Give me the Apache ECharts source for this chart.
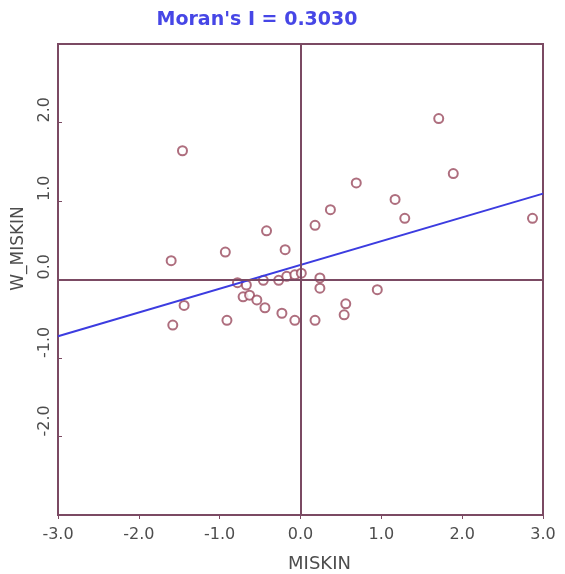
<!DOCTYPE html>
<html>
<head>
<meta charset="utf-8">
<script src="https://cdn.jsdelivr.net/npm/echarts@6/dist/echarts.min.js"></script>
<style>
  html, body { margin: 0; padding: 0; background: #fff; }
  #chart { width: 565px; height: 574px; }
</style>
</head>
<body>
<div id="chart"></div>
<script>
// standardized MISKIN values (x) and spatial lag W_MISKIN (y)
var miskin = [1.71, 1.89, 0.69, 0.37, 0.18, 1.17, 1.29, 2.87, 0.24, 0.24, 0.95, 0.56, 0.54, 0.18,
              -1.46, -0.42, -0.93, -0.19, -1.60, -1.44, -1.58, -0.91, -0.78, -0.67, -0.71, -0.63,
              -0.54, -0.44, -0.46, -0.23, -0.07, -0.27, -0.17, -0.07, 0.01];
var wMiskin = [2.05, 1.35, 1.23, 0.89, 0.69, 1.02, 0.78, 0.78, 0.02, -0.11, -0.13, -0.31, -0.45, -0.52,
               1.64, 0.62, 0.35, 0.38, 0.24, -0.33, -0.58, -0.52, -0.04, -0.07, -0.22, -0.20,
               -0.26, -0.36, -0.01, -0.43, -0.52, -0.01, 0.04, 0.06, 0.08];
var moranI = 0.3030;
var intercept = 0.185;
var lineX = [-3, 3];

var points = [];
for (var i = 0; i < miskin.length; i++) {
    points.push([miskin[i], wMiskin[i]]);
}
var fitLine = lineX.map(function (x) { return [x, intercept + moranI * x]; });

var frame = '#7b4a63';
var labelFont = { color: '#4d4d4d', fontFamily: 'DejaVu Sans', fontSize: 16 };

var myChart = echarts.init(document.getElementById('chart'));
myChart.setOption({
    animation: false,
    title: {
        text: "Moran's I = " + moranI.toFixed(4),
        left: 252,
        top: 6,
        textAlign: 'center',
        textStyle: { color: '#4646e6', fontFamily: 'DejaVu Sans', fontSize: 19, fontWeight: 'bold' }
    },
    grid: {
        left: 58, right: 22, top: 44, bottom: 59,
        outerBoundsMode: 'none',
        show: true, borderColor: frame, borderWidth: 2, backgroundColor: '#fff'
    },
    xAxis: {
        type: 'value', min: -3, max: 3, interval: 1,
        name: 'MISKIN', nameLocation: 'middle', nameGap: 40,
        nameTextStyle: { color: '#4d4d4d', fontFamily: 'DejaVu Sans', fontSize: 18, padding: [0, 0, 0, 38] },
        axisLine: { onZero: false, lineStyle: { color: frame, width: 2 } },
        axisTick: { show: true, length: 4, lineStyle: { color: frame } },
        splitLine: { show: false },
        axisLabel: Object.assign({ margin: 12, formatter: function (v) { return v.toFixed(1); } }, labelFont)
    },
    yAxis: {
        type: 'value', min: -3, max: 3, interval: 1,
        name: 'W_MISKIN', nameLocation: 'middle', nameGap: 31,
        nameTextStyle: { color: '#4d4d4d', fontFamily: 'DejaVu Sans', fontSize: 17, padding: [0, 0, 0, 62] },
        axisLine: { onZero: false, lineStyle: { color: frame, width: 2 } },
        axisTick: { show: true, inside: true, length: 4, lineStyle: { color: frame } },
        splitLine: { show: false },
        axisLabel: Object.assign({
            margin: 5, rotate: 90, align: 'left',
            showMinLabel: false, showMaxLabel: false,
            formatter: function (v) { return v.toFixed(1); }
        }, labelFont)
    },
    series: [
        {
            type: 'scatter',
            data: points,
            symbol: 'emptyCircle',
            symbolSize: 9,
            itemStyle: { color: '#9a4a5e', borderWidth: 1.6 },
            markLine: {
                silent: true,
                symbol: 'none',
                label: { show: false },
                lineStyle: { color: frame, width: 2, type: 'solid' },
                data: [{ xAxis: 0 }, { yAxis: 0 }]
            },
            z: 3
        },
        {
            type: 'line',
            data: fitLine,
            symbol: 'none',
            lineStyle: { color: '#3c3ce0', width: 2 },
            z: 4
        }
    ]
});
</script>
</body>
</html>
